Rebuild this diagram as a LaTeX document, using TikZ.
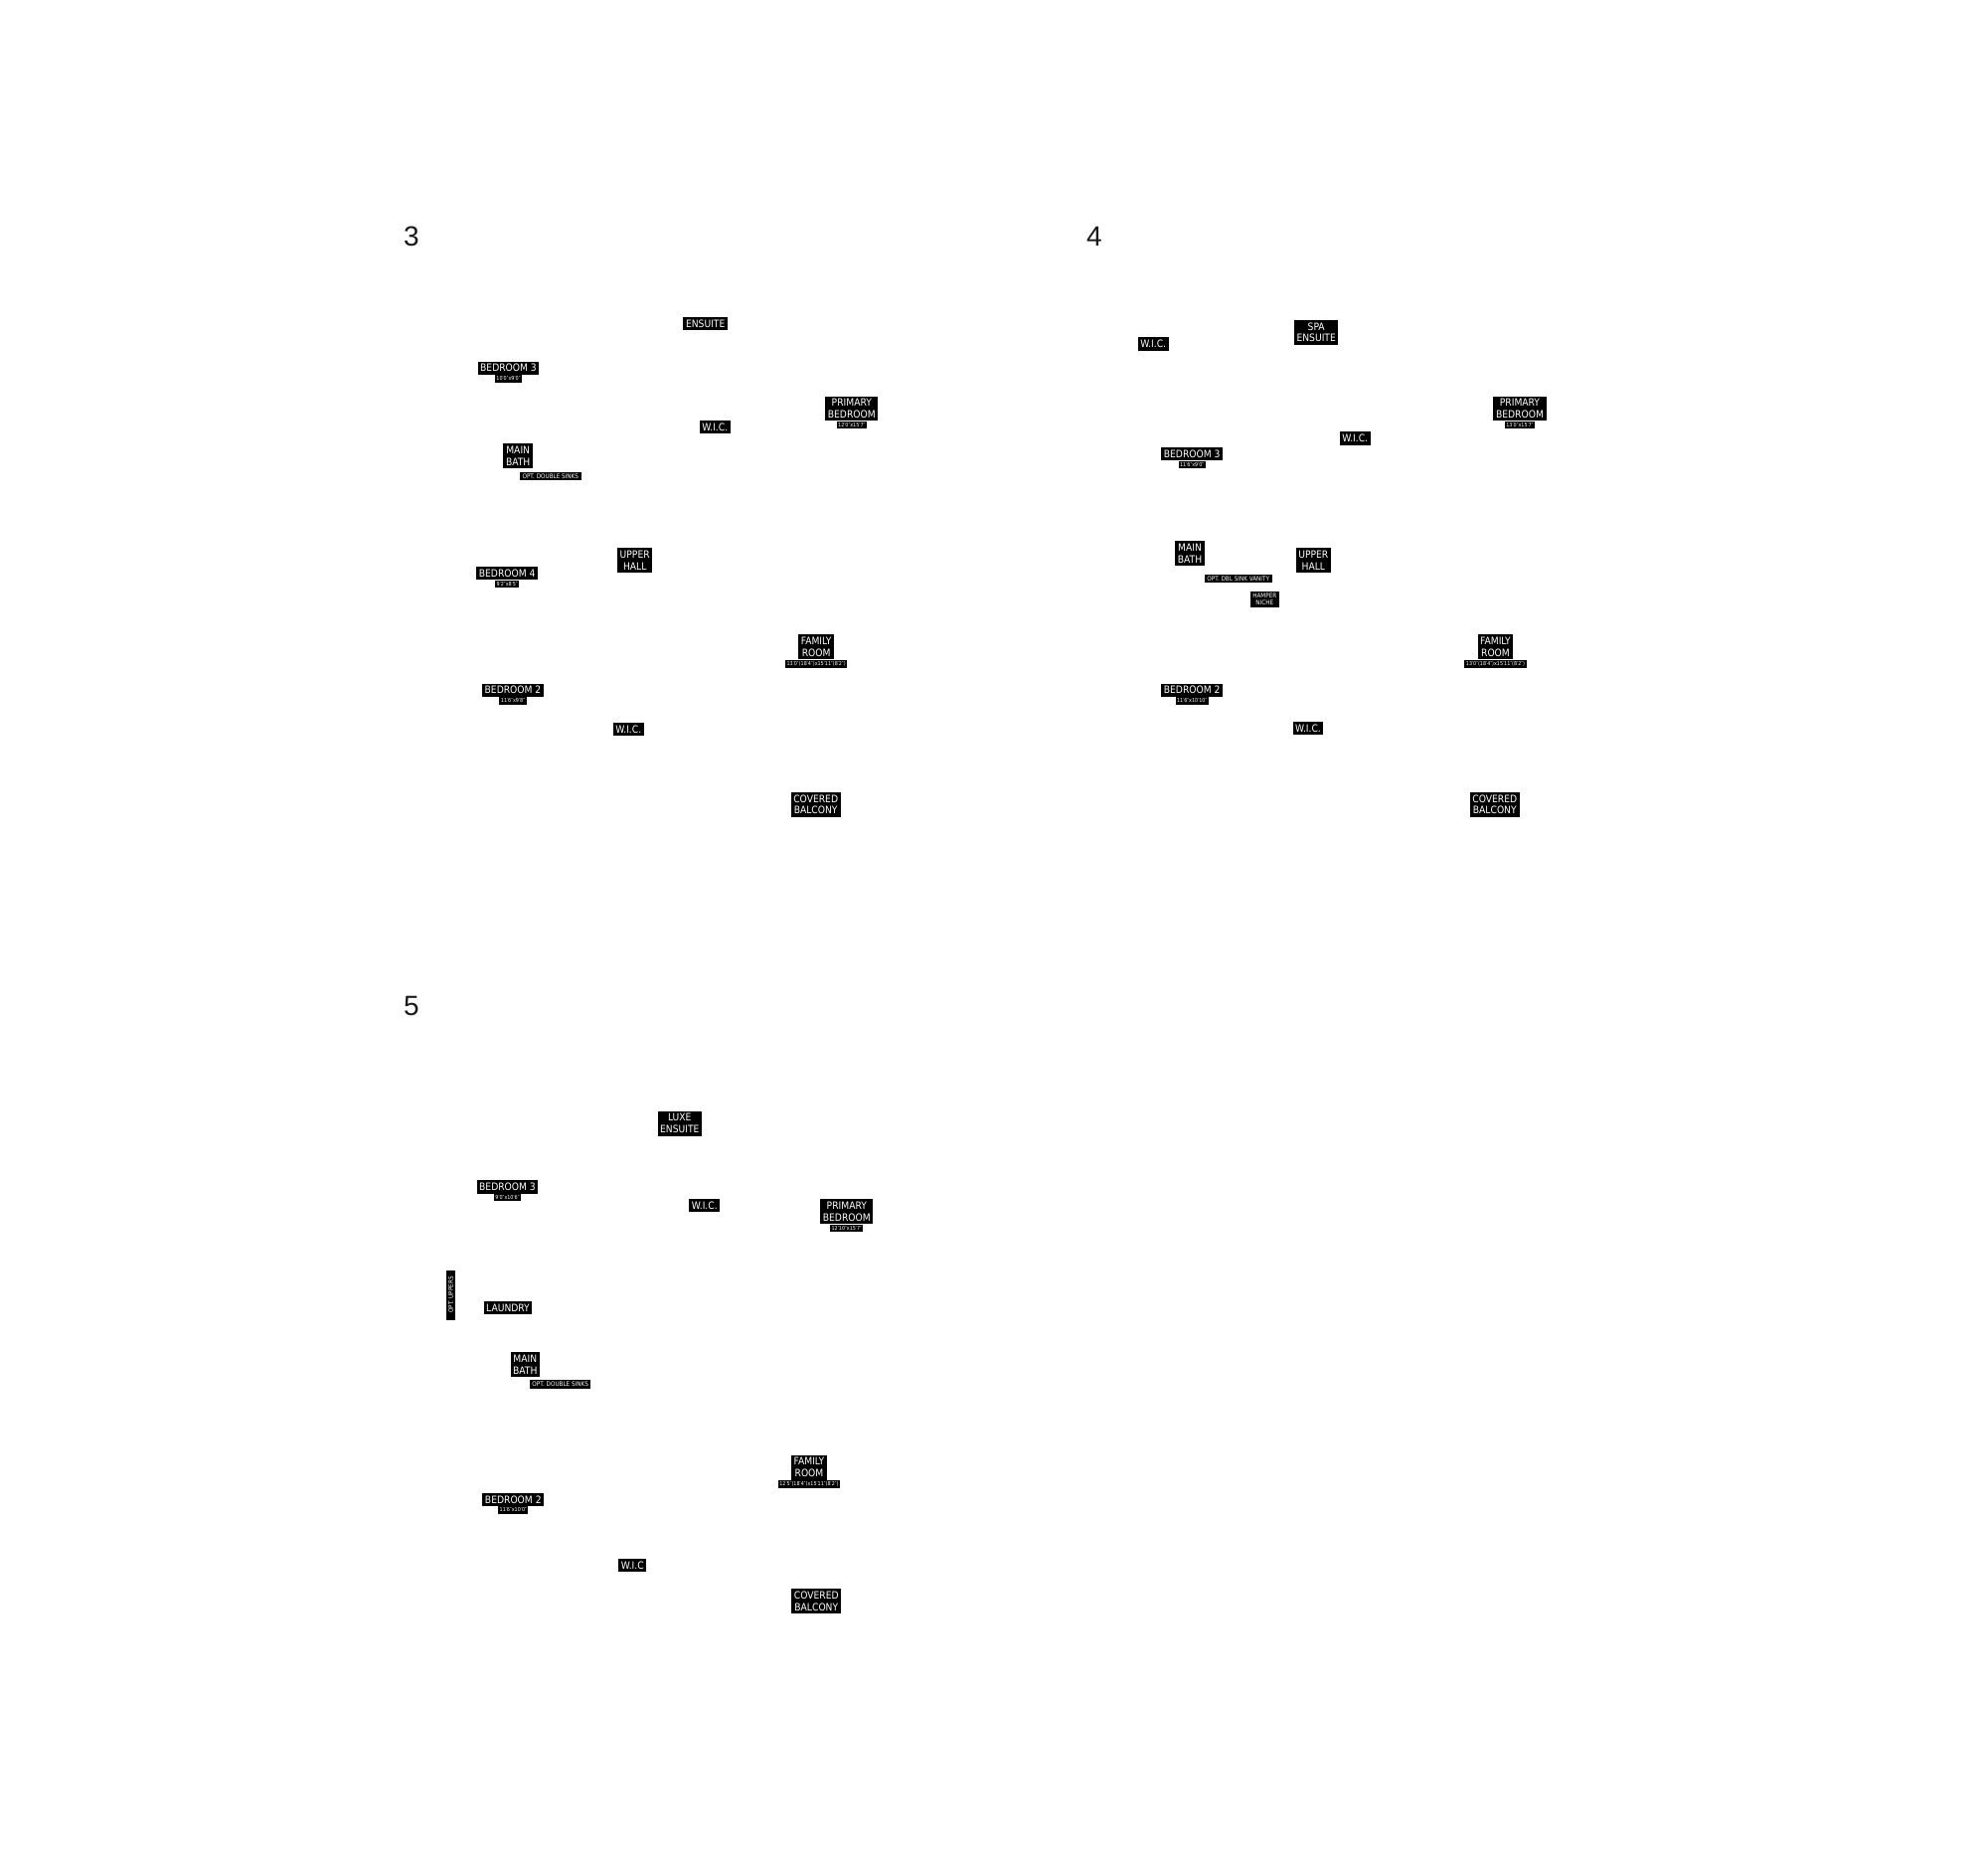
\documentclass[tikz,border=0pt]{standalone}
\usepackage{fontspec}
\setmainfont{Liberation Sans}
\newfontfamily\labelfont{DejaVu Sans Condensed}
\usetikzlibrary{
	positioning
}

\begin{document}
\begin{tikzpicture}[x=1pt,y=-1pt,
		room/.style={fill=black,text=white,align=center,inner xsep=2.6pt,inner ysep=2.8pt,
			font=\labelfont\fontsize{10.2}{11.8}\selectfont},
		dim/.style={fill=black,text=white,inner xsep=1.5pt,inner ysep=1.6pt,
			font=\labelfont\fontsize{5.4}{6}\selectfont},
		note/.style={fill=black,text=white,align=center,inner xsep=2.5pt,inner ysep=1.8pt,
			font=\labelfont\fontsize{6.3}{7.2}\selectfont},
		plan/.style={inner sep=0pt,text=black!90,font=\fontsize{28}{30}\selectfont}
	]
	\useasboundingbox (0,0) rectangle (2000,1869);

	% plan 3
	\draw
		(414,238)     node[plan] (n3)    {3}
		(709.7,325.7) node[room] (ens3)  {ENSUITE}
		(511.5,370.2) node[room] (bedc3) {BEDROOM 3}
		(856.8,411)   node[room] (prim3) {PRIMARY\\BEDROOM}
		(719.3,429.3) node[room] (wica3) {W.I.C.}
		(521.2,458.7) node[room] (bath3) {MAIN\\BATH}
		(553.8,479.2) node[note] (sink3) {OPT. DOUBLE SINKS}
		(638.7,563.7) node[room] (hall3) {UPPER\\HALL}
		(510.2,576.8) node[room] (bedd3) {BEDROOM 4}
		(821.2,650.8) node[room] (fam3)  {FAMILY\\ROOM}
		(516,694.2)   node[room] (bedb3) {BEDROOM 2}
		(632.3,733.8) node[room] (wicb3) {W.I.C.}
		(820.7,809.2) node[room] (balc3) {COVERED\\BALCONY}

		node[dim,below=0pt of bedc3] (dimc3) {10′0″x9′0″}
		node[dim,below=0pt of prim3] (dimp3) {12′0″x15′7″}
		node[dim,below=0pt of bedd3] (dimd3) {9′2″x8′5″}
		node[dim,below=0pt of fam3]  (dimf3) {13′0″(18′4″)x15′11″(8′2″)}
		node[dim,below=0pt of bedb3] (dimb3) {11′6″x9′8″}
	;

	% plan 4
	\draw
		(1101,238)      node[plan] (n4)    {4}
		(1160.2,346)    node[room] (wica4) {W.I.C.}
		(1324.2,334.3)  node[room] (ens4)  {SPA\\ENSUITE}
		(1529,411)      node[room] (prim4) {PRIMARY\\BEDROOM}
		(1363.2,441)    node[room] (wicb4) {W.I.C.}
		(1199.2,456.5)  node[room] (bedc4) {BEDROOM 3}
		(1197,556.7)    node[room] (bath4) {MAIN\\BATH}
		(1245.7,581.8)  node[note] (sink4) {OPT. DBL SINK VANITY}
		(1272.3,603)    node[note] (hamp4) {HAMPER\\NICHE}
		(1321.3,563.7)  node[room] (hall4) {UPPER\\HALL}
		(1504.5,650.8)  node[room] (fam4)  {FAMILY\\ROOM}
		(1199.2,694.2)  node[room] (bedb4) {BEDROOM 2}
		(1316,732.5)    node[room] (wicc4) {W.I.C.}
		(1503.8,809.2)  node[room] (balc4) {COVERED\\BALCONY}

		node[dim,below=0pt of prim4] (dimp4) {13′0″x15′7″}
		node[dim,below=0pt of bedc4] (dimc4) {11′6″x9′0″}
		node[dim,below=0pt of fam4]  (dimf4) {13′0″(18′4″)x15′11″(8′2″)}
		node[dim,below=0pt of bedb4] (dimb4) {11′6″x10′10″}
	;

	% plan 5
	\draw
		(414,1011.7)    node[plan] (n5)    {5}
		(683.8,1130.2)  node[room] (ens5)  {LUXE\\ENSUITE}
		(510.5,1194)    node[room] (bedc5) {BEDROOM 3}
		(708.8,1212.3)  node[room] (wica5) {W.I.C.}
		(851.8,1218.7)  node[room] (prim5) {PRIMARY\\BEDROOM}
		(453.5,1302.5)  node[note,rotate=90,minimum width=50pt] (upp5) {OPT. UPPERS}
		(511,1315.8)    node[room] (laun5) {LAUNDRY}
		(528.3,1372.5)  node[room] (bath5) {MAIN\\BATH}
		(563.7,1392.5)  node[note] (sink5) {OPT. DOUBLE SINKS}
		(814,1476)      node[room] (fam5)  {FAMILY\\ROOM}
		(516.3,1508.3)  node[room] (bedb5) {BEDROOM 2}
		(636.3,1574.8)  node[room] (wicb5) {W.I.C}
		(821.3,1610.8)  node[room] (balc5) {COVERED\\BALCONY}

		node[dim,below=0pt of bedc5] (dimc5) {9′0″x10′6″}
		node[dim,below=0pt of prim5] (dimp5) {12′10″x15′7″}
		node[dim,below=0pt of fam5]  (dimf5) {12′5″(18′4″)x15′11″(8′2″)}
		node[dim,below=0pt of bedb5] (dimb5) {11′6″x10′0″}
	;
\end{tikzpicture}
\end{document}
